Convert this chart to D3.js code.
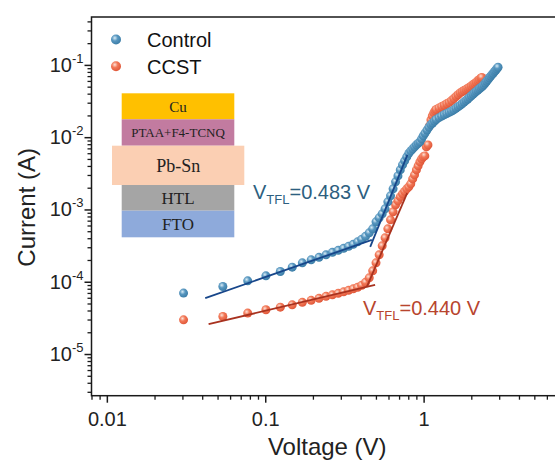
<!DOCTYPE html>
<html>
<head>
<meta charset="utf-8">
<script src="https://cdn.jsdelivr.net/npm/d3@7"></script>
<style>
  body { margin: 0; background: #fff; }
  svg { display: block; font-family: "Liberation Sans", Arial, sans-serif; }
</style>
</head>
<body>
<svg id="chart" width="555" height="467"></svg>
<script>
// Control (blue) I-V sweep
const controlVoltage = [
  0.0305, 0.054, 0.0775, 0.101, 0.1245, 0.148, 0.1715, 0.195, 0.2185, 0.242,
  0.2655, 0.289, 0.3125, 0.336, 0.3595, 0.383, 0.4065, 0.43, 0.4535, 0.477,
  0.5005, 0.524, 0.5475, 0.571, 0.5945, 0.618, 0.6415, 0.665, 0.6885, 0.712,
  0.7355, 0.759, 0.7825, 0.806, 0.8295, 0.853, 0.8765, 0.9, 0.9235, 0.947,
  0.9705, 0.994, 1.02, 1.05, 1.08, 1.11, 1.14, 1.17, 1.2, 1.25,
  1.3, 1.35, 1.4, 1.45, 1.5, 1.55, 1.6, 1.65, 1.7, 1.75,
  1.8, 1.85, 1.9, 1.95, 2.0, 2.05, 2.1, 2.15, 2.2, 2.25,
  2.3, 2.35, 2.4, 2.45, 2.5, 2.55, 2.6, 2.65, 2.7, 2.75,
  2.8, 2.85, 2.9, 2.95
];
const controlCurrent = [
  6.96e-5, 8.58e-5, 1.029e-4, 1.207e-4, 1.384e-4, 1.591e-4, 1.825e-4, 2.009e-4, 2.175e-4, 2.355e-4,
  2.55e-4, 2.718e-4, 2.897e-4, 3.088e-4, 3.29e-4, 3.563e-4, 3.858e-4, 4.245e-4, 4.746e-4, 5.39e-4,
  6.74e-4, 7.65e-4, 8.69e-4, 1.019e-3, 1.274e-3, 1.542e-3, 1.927e-3, 2.408e-3, 2.915e-3, 3.529e-3,
  4.138e-3, 4.701e-3, 5.338e-3, 5.97e-3, 6.46e-3, 6.89e-3, 7.34e-3, 7.82e-3, 8.21e-3, 8.61e-3,
  9.47e-3, 0.01042, 0.01136, 0.01254, 0.01375, 0.01489, 0.01572, 0.01665, 0.01757, 0.01861,
  0.01952, 0.0204, 0.02123, 0.02206, 0.02289, 0.02385, 0.0251, 0.02633, 0.02753, 0.02897,
  0.03058, 0.03208, 0.03376, 0.03552, 0.03737, 0.03922, 0.04113, 0.043, 0.04496, 0.04671,
  0.04867, 0.05074, 0.05306, 0.05619, 0.0595, 0.06261, 0.0663, 0.06979, 0.07341, 0.07675,
  0.08076, 0.08445, 0.08857, 0.09264
];

// CCST (red) I-V sweep
const ccstVoltage = [
  0.0305, 0.054, 0.0775, 0.101, 0.1245, 0.148, 0.1715, 0.195, 0.2185, 0.242,
  0.2655, 0.289, 0.3125, 0.336, 0.3595, 0.383, 0.4065, 0.43, 0.4535, 0.477,
  0.5005, 0.524, 0.5475, 0.571, 0.5945, 0.618, 0.6415, 0.665, 0.6885, 0.712,
  0.7355, 0.759, 0.7825, 0.806, 0.8295, 0.853, 0.8765, 0.9, 0.9235, 0.947,
  0.9705, 0.994, 1.0175, 1.041, 1.065, 1.088, 1.112, 1.135, 1.159, 1.18,
  1.2, 1.25, 1.3, 1.35, 1.4, 1.45, 1.5, 1.55, 1.6, 1.65,
  1.7, 1.75, 1.8, 1.85, 1.9, 1.95, 2.0, 2.05, 2.1, 2.15,
  2.2, 2.25, 2.3, 2.33
];
const ccstCurrent = [
  2.97e-5, 3.3e-5, 3.68e-5, 4.09e-5, 4.45e-5, 4.79e-5, 5.19e-5, 5.53e-5, 5.89e-5, 6.28e-5,
  6.59e-5, 6.91e-5, 7.25e-5, 7.6e-5, 7.97e-5, 8.37e-5, 8.92e-5, 9.81e-5, 1.132e-4, 1.415e-4,
  1.826e-4, 2.355e-4, 3.137e-4, 4.047e-4, 5.39e-4, 7.18e-4, 9.27e-4, 1.158e-3, 1.315e-3, 1.493e-3,
  1.643e-3, 1.779e-3, 1.927e-3, 2.054e-3, 2.26e-3, 2.649e-3, 3.01e-3, 3.529e-3, 4.009e-3, 4.553e-3,
  5.01e-3, 5.34e-3, 5.51e-3, 7.34e-3, 7.82e-3, 0.01433, 0.01735, 0.0197, 0.02168, 0.0231,
  0.02424, 0.02542, 0.02649, 0.0277, 0.02897, 0.03029, 0.03208, 0.03419, 0.03642, 0.0387,
  0.04099, 0.04258, 0.04424, 0.04582, 0.04745, 0.04915, 0.05106, 0.05322, 0.0553, 0.05763,
  0.06026, 0.06281, 0.06546, 0.06716
];

// linear fits (ohmic region and trap-filling region), [voltage, current] end points
const controlFitOhmic = [[0.0418, 5.93e-5], [0.471, 3.8e-4]];
const controlFitTfl = [[0.46, 3.04e-4], [0.79, 5.69e-3]];
const ccstFitOhmic = [[0.0439, 2.59e-5], [0.494, 9.06e-5]];
const ccstFitTfl = [[0.438, 8.5e-5], [0.787, 1.68e-3]];

const xTickValues = [0.01, 0.1, 1];
const xTickLabels = ["0.01", "0.1", "1"];
const yTickExponents = [-5, -4, -3, -2, -1];
const seriesNames = ["Control", "CCST"];
const stackLayers = ["Cu", "PTAA+F4-TCNQ", "Pb-Sn", "HTL", "FTO"];
const tflLabels = ["0.483 V", "0.440 V"];

const svg = d3.select("#chart");
const width = 555, height = 467;
const plot = { left: 91.5, top: 17, right: 582, bottom: 395.7 };

const x = d3.scaleLog().domain([0.008, 10]).range([plot.left, plot.right]);
const y = d3.scaleLog().domain([2.65e-6, 0.46]).range([plot.bottom, plot.top]);

svg.append("rect").attr("width", width).attr("height", height).attr("fill", "#fff");

// sphere-like gradients for the markers
const defs = svg.append("defs");
function sphere(id, light, mid, edge) {
  const g = defs.append("radialGradient").attr("id", id)
    .attr("cx", "38%").attr("cy", "35%").attr("r", "65%");
  g.append("stop").attr("offset", "0%").attr("stop-color", light);
  g.append("stop").attr("offset", "45%").attr("stop-color", mid);
  g.append("stop").attr("offset", "100%").attr("stop-color", edge);
}
sphere("gBlue", "#d9ecf6", "#5897c0", "#3c7ea8");
sphere("gRed", "#fde3d9", "#f27857", "#e0583a");

// frame
svg.append("rect")
  .attr("x", plot.left).attr("y", plot.top)
  .attr("width", plot.right - plot.left).attr("height", plot.bottom - plot.top)
  .attr("fill", "none").attr("stroke", "#1a1a1a").attr("stroke-width", 1.5);

// x axis
const xMinor = x.ticks().filter((d) => !xTickValues.some((t) => Math.abs(t - d) / t < 1e-6));
svg.append("g")
  .attr("transform", `translate(0,${plot.bottom})`)
  .call(d3.axisBottom(x).tickValues(xMinor).tickSize(4).tickSizeOuter(0).tickFormat(""))
  .call((g) => g.select(".domain").remove())
  .call((g) => g.selectAll("line").attr("stroke", "#1a1a1a").attr("stroke-width", 1.3));
svg.append("g")
  .attr("transform", `translate(0,${plot.bottom})`)
  .call(d3.axisBottom(x).tickValues(xTickValues).tickSize(7).tickSizeOuter(0)
    .tickFormat((d, i) => xTickLabels[i]))
  .call((g) => g.select(".domain").remove())
  .call((g) => g.selectAll("line").attr("stroke", "#1a1a1a").attr("stroke-width", 1.5))
  .call((g) => g.selectAll("text")
    .attr("y", 16).attr("dy", "0.71em")
    .attr("font-size", 20).attr("fill", "#222")
    .attr("font-family", "Liberation Sans, Arial, sans-serif"));

// y axis
const yMajor = yTickExponents.map((e) => Math.pow(10, e));
const yMinor = y.ticks().filter((d) => !yMajor.some((t) => Math.abs(t - d) / t < 1e-6));
svg.append("g")
  .attr("transform", `translate(${plot.left},0)`)
  .call(d3.axisLeft(y).tickValues(yMinor).tickSize(4).tickSizeOuter(0).tickFormat(""))
  .call((g) => g.select(".domain").remove())
  .call((g) => g.selectAll("line").attr("stroke", "#1a1a1a").attr("stroke-width", 1.3));
svg.append("g")
  .attr("transform", `translate(${plot.left},0)`)
  .call(d3.axisLeft(y).tickValues(yMajor).tickSize(7).tickSizeOuter(0).tickFormat(""))
  .call((g) => g.select(".domain").remove())
  .call((g) => g.selectAll("line").attr("stroke", "#1a1a1a").attr("stroke-width", 1.5));

const yLabels = svg.append("g").selectAll("text")
  .data(yTickExponents)
  .join("text")
  .attr("x", plot.left - 8)
  .attr("y", (e) => y(Math.pow(10, e)) + 7)
  .attr("text-anchor", "end")
  .attr("font-size", 20)
  .attr("fill", "#222");
yLabels.append("tspan").text("10");
yLabels.append("tspan").attr("dy", -9).attr("font-size", 13).text((e) => String(e));

// axis titles
svg.append("text")
  .attr("x", (plot.left + 555) / 2 + 4).attr("y", 455)
  .attr("text-anchor", "middle").attr("font-size", 24).attr("fill", "#222")
  .text("Voltage (V)");
svg.append("text")
  .attr("transform", `translate(35,${(plot.top + plot.bottom) / 2 + 1}) rotate(-90)`)
  .attr("text-anchor", "middle").attr("font-size", 24).attr("fill", "#222")
  .text("Current (A)");

// layer stack inset
const layerColors = ["#ffc000", "#c27ba0", "#fbcfb3", "#a5a5a5", "#8eaadb"];
const layerBoxes = [
  { x: 121.7, y: 93.3, w: 112.6, h: 26.0, fs: 15 },
  { x: 121.7, y: 119.3, w: 112.6, h: 26.4, fs: 13 },
  { x: 112.0, y: 145.7, w: 132.3, h: 39.3, fs: 18 },
  { x: 121.7, y: 185.0, w: 112.6, h: 25.7, fs: 17 },
  { x: 121.7, y: 210.7, w: 112.6, h: 26.6, fs: 17 },
];
const inset = svg.append("g");
inset.selectAll("rect").data(stackLayers).join("rect")
  .attr("x", (d, i) => layerBoxes[i].x).attr("y", (d, i) => layerBoxes[i].y)
  .attr("width", (d, i) => layerBoxes[i].w).attr("height", (d, i) => layerBoxes[i].h)
  .attr("fill", (d, i) => layerColors[i]);
inset.selectAll("text").data(stackLayers).join("text")
  .attr("x", (d, i) => layerBoxes[i].x + layerBoxes[i].w / 2)
  .attr("y", (d, i) => layerBoxes[i].y + layerBoxes[i].h / 2)
  .attr("dy", "0.35em")
  .attr("text-anchor", "middle")
  .attr("font-family", "Liberation Serif, 'Times New Roman', serif")
  .attr("font-size", (d, i) => layerBoxes[i].fs)
  .attr("fill", "#222")
  .text((d) => d);

// data points
const ccstPoints = ccstVoltage.map((v, i) => ({ v, c: ccstCurrent[i] }));
const controlPoints = controlVoltage.map((v, i) => ({ v, c: controlCurrent[i] }));

svg.append("g").selectAll("circle").data(ccstPoints).join("circle")
  .attr("cx", (d) => x(d.v)).attr("cy", (d) => y(d.c)).attr("r", 4.5)
  .attr("fill", "url(#gRed)");
svg.append("g").selectAll("circle").data(controlPoints).join("circle")
  .attr("cx", (d) => x(d.v)).attr("cy", (d) => y(d.c)).attr("r", 4.5)
  .attr("fill", "url(#gBlue)");

// fit lines
const line = d3.line().x((d) => x(d[0])).y((d) => y(d[1]));
[[controlFitOhmic, "#17468a"], [controlFitTfl, "#17468a"], [ccstFitOhmic, "#a8321f"], [ccstFitTfl, "#a8321f"]]
  .forEach(([pts, color]) => {
    svg.append("path").datum(pts)
      .attr("d", line).attr("fill", "none")
      .attr("stroke", color).attr("stroke-width", 1.8);
  });

// V_TFL annotations
function tfl(xPos, yPos, color, value) {
  const t = svg.append("text").attr("x", xPos).attr("y", yPos)
    .attr("font-size", 20).attr("fill", color);
  t.append("tspan").text("V");
  t.append("tspan").attr("font-size", 13).attr("dy", 5).text("TFL");
  t.append("tspan").attr("dy", -5).text("=" + value);
}
tfl(253, 199, "#2d5f80", tflLabels[0]);
tfl(363, 315, "#b8452e", tflLabels[1]);

// legend
const legend = svg.append("g");
seriesNames.forEach((name, i) => {
  legend.append("circle").attr("cx", 116).attr("cy", 39.5 + i * 26.7).attr("r", 5)
    .attr("fill", i === 0 ? "url(#gBlue)" : "url(#gRed)");
  legend.append("text").attr("x", 147).attr("y", 47 + i * 26.7)
    .attr("font-size", 20).attr("fill", "#111").text(name);
});
</script>
</body>
</html>
